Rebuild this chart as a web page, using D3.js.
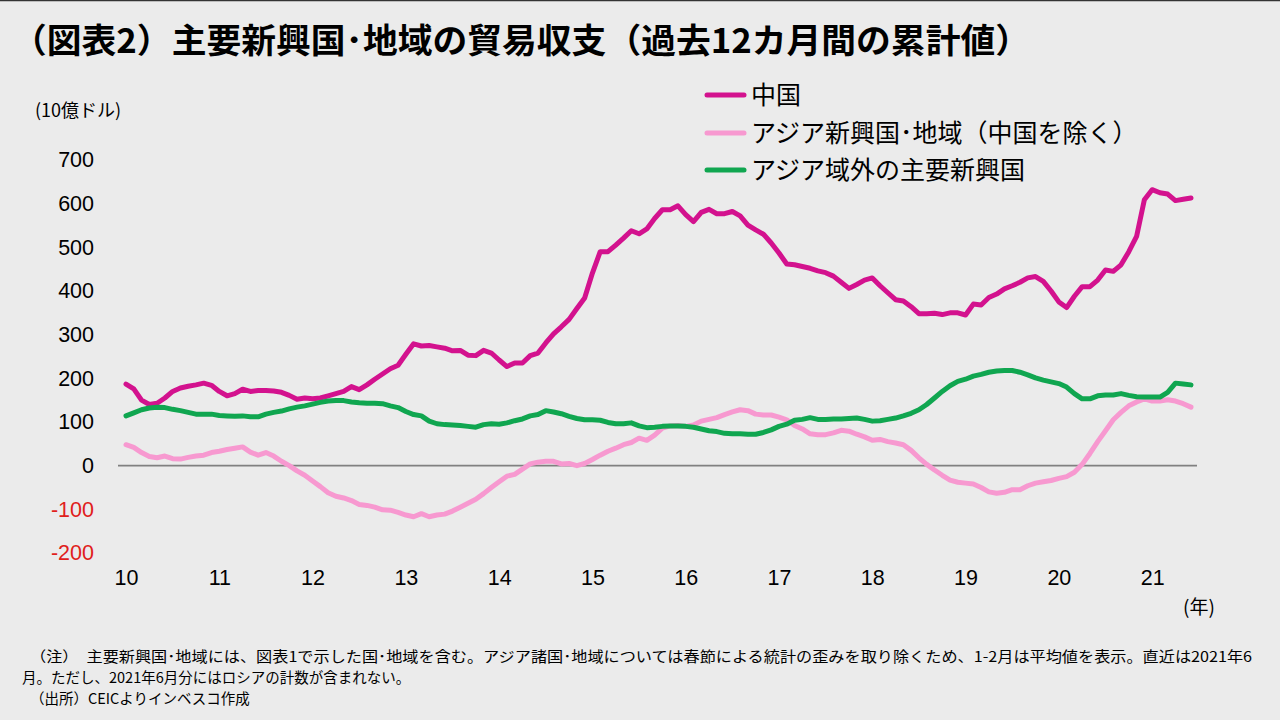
<!DOCTYPE html>
<html><head><meta charset="utf-8">
<script src="https://cdn.jsdelivr.net/npm/d3@7"></script>
<style>
html,body{margin:0;padding:0;background:#ebebeb;}
svg{display:block;}
</style></head>
<body>
<svg id="c" width="1280" height="720"></svg>
<script>
// Monthly data Jan 2010 – Jun 2021 (USD bn, 12-month cumulative)
const china = [187,176,150,140,143,155,170,178,182,185,189,184,
170,160,165,175,170,172,172,171,168,161,152,155,
153,155,160,165,170,181,174,185,198,210,222,230,
255,279,274,275,272,269,263,264,253,252,264,258,
242,227,235,235,252,258,281,302,318,335,360,384,
441,490,490,505,521,538,531,542,566,586,586,595,
575,559,580,587,577,577,582,572,551,540,530,510,
487,462,460,456,452,446,442,434,420,406,415,425,
430,412,396,380,377,364,348,348,349,346,350,350,
345,370,368,385,393,405,412,420,430,433,422,400,
375,362,388,410,410,425,448,445,460,490,525,609,
632,625,622,607,610,613];
const asiaExChina = [48,42,30,21,18,22,16,15,19,22,24,30,
33,37,40,43,31,24,30,22,10,0,-12,-22,
-35,-48,-62,-70,-74,-80,-89,-91,-95,-101,-102,-107,
-113,-117,-110,-117,-113,-111,-104,-95,-86,-77,-64,-50,
-37,-24,-20,-8,4,8,10,10,4,5,0,5,
14,24,33,40,48,53,63,58,70,86,91,92,
90,93,102,106,110,117,123,128,126,118,116,116,
111,105,92,84,73,71,71,75,81,79,72,66,
58,60,55,52,48,35,18,3,-10,-22,-33,-38,
-40,-42,-50,-60,-63,-61,-55,-55,-46,-40,-37,-34,
-29,-25,-15,3,28,55,80,105,122,137,146,153,
148,148,151,148,142,134];
const nonAsiaEM = [114,121,128,132,134,133,129,126,122,118,118,118,
115,114,113,114,112,112,118,122,125,130,134,137,
141,145,148,149,149,146,144,143,143,142,137,133,
124,117,114,102,96,94,93,92,90,88,94,96,
95,98,103,107,114,117,126,123,119,113,108,105,
105,104,99,96,96,98,91,87,88,90,91,91,
90,88,84,80,78,74,73,73,72,72,76,82,
90,95,104,106,110,106,106,107,107,108,109,106,
102,103,106,109,114,120,128,140,155,170,183,193,
198,205,209,214,217,218,218,214,208,201,196,192,
188,180,165,153,153,160,162,162,165,161,158,157,
157,157,168,189,187,185];
const yearLabels = ["10","11","12","13","14","15","16","17","18","19","20","21"];
const yTicks = [700,600,500,400,300,200,100,0,-100,-200];
const seriesNames = ["中国","アジア新興国･地域（中国を除く）","アジア域外の主要新興国"];
const seriesColors = ["#d3128e","#f799d0","#10a650"];

const svg = d3.select("#c");
const W = 1280, H = 720;
svg.append("rect").attr("width",W).attr("height",H).attr("fill","#ebebeb");
svg.append("line").attr("x1",0).attr("x2",W).attr("y1",0.5).attr("y2",0.5).attr("stroke","#333").attr("stroke-width",1.5);

const jp = "'Noto Sans CJK JP','Noto Sans',sans-serif";
const lat = "'Liberation Sans',Arial,sans-serif";

// Title
svg.append("text").attr("x",12).attr("y",53)
  .attr("font-family",jp).attr("font-weight",700).attr("font-size",34)
  .attr("textLength",1018).attr("lengthAdjust","spacingAndGlyphs")
  .attr("fill","#000")
  .text("（図表2）主要新興国･地域の貿易収支（過去12カ月間の累計値）");

const x = d3.scaleLinear().domain([0,137]).range([126,1191]);
const y = d3.scaleLinear().domain([-200,700]).range([553,160]);

// Y axis
const yAxis = d3.axisLeft(y).tickValues(yTicks).tickSize(0).tickPadding(0).tickFormat(d=>String(d));
const gy = svg.append("g").attr("transform","translate(94,0)").call(yAxis);
gy.select(".domain").remove();
gy.selectAll("text").attr("font-family",lat).attr("font-size",21.5)
  .attr("fill",d=>d<0?"#e0201b":"#000");

svg.append("text").attr("x",35).attr("y",117).attr("font-family",jp).attr("font-size",18).attr("fill","#000").text("(10億ドル)");

// X axis
const xAxis = d3.axisBottom(x).tickValues(yearLabels.map((d,i)=>i*12)).tickSize(0).tickPadding(0)
  .tickFormat((d,i)=>yearLabels[i]);
const gx = svg.append("g").attr("transform","translate(0,570)").call(xAxis);
gx.select(".domain").remove();
gx.selectAll("text").attr("font-family",lat).attr("font-size",21.5).attr("fill","#000");

svg.append("text").attr("x",1199).attr("y",614).attr("text-anchor","middle").attr("font-family",jp).attr("font-size",19).attr("fill","#000").text("(年)");

// zero line
svg.append("line").attr("x1",118).attr("x2",1197).attr("y1",y(0)).attr("y2",y(0)).attr("stroke","#808080").attr("stroke-width",1.6);

const line = d3.line().x((d,i)=>x(i)).y(d=>y(d));
const data = [china, asiaExChina, nonAsiaEM];
data.forEach((s,k)=>{
  svg.append("path").datum(s).attr("d",line).attr("fill","none")
    .attr("stroke",seriesColors[k]).attr("stroke-width",5)
    .attr("stroke-linejoin","round").attr("stroke-linecap","round");
});

// Legend
const legY = [95,133,170];
seriesNames.forEach((n,k)=>{
  svg.append("line").attr("x1",707).attr("x2",744).attr("y1",legY[k]).attr("y2",legY[k])
    .attr("stroke",seriesColors[k]).attr("stroke-width",5).attr("stroke-linecap","round");
  svg.append("text").attr("x",751).attr("y",legY[k]+9).attr("font-family",jp).attr("font-size",25).attr("fill","#000").text(n);
});

// Notes
const notes = [
  {x:30,y:662,t:"（注）　主要新興国･地域には、図表1で示した国･地域を含む。アジア諸国･地域については春節による統計の歪みを取り除くため、1-2月は平均値を表示。直近は2021年6",len:1222},
  {x:22,y:683,t:"月。ただし、2021年6月分にはロシアの計数が含まれない。",len:null},
  {x:30,y:704,t:"（出所）CEICよりインベスコ作成",len:null}
];
notes.forEach(n=>{
  const t = svg.append("text").attr("x",n.x).attr("y",n.y).attr("font-family",jp).attr("font-size",14.5).attr("fill","#000").text(n.t);
  if(n.len) t.attr("textLength",n.len).attr("lengthAdjust","spacingAndGlyphs");
});
</script>
</body></html>
